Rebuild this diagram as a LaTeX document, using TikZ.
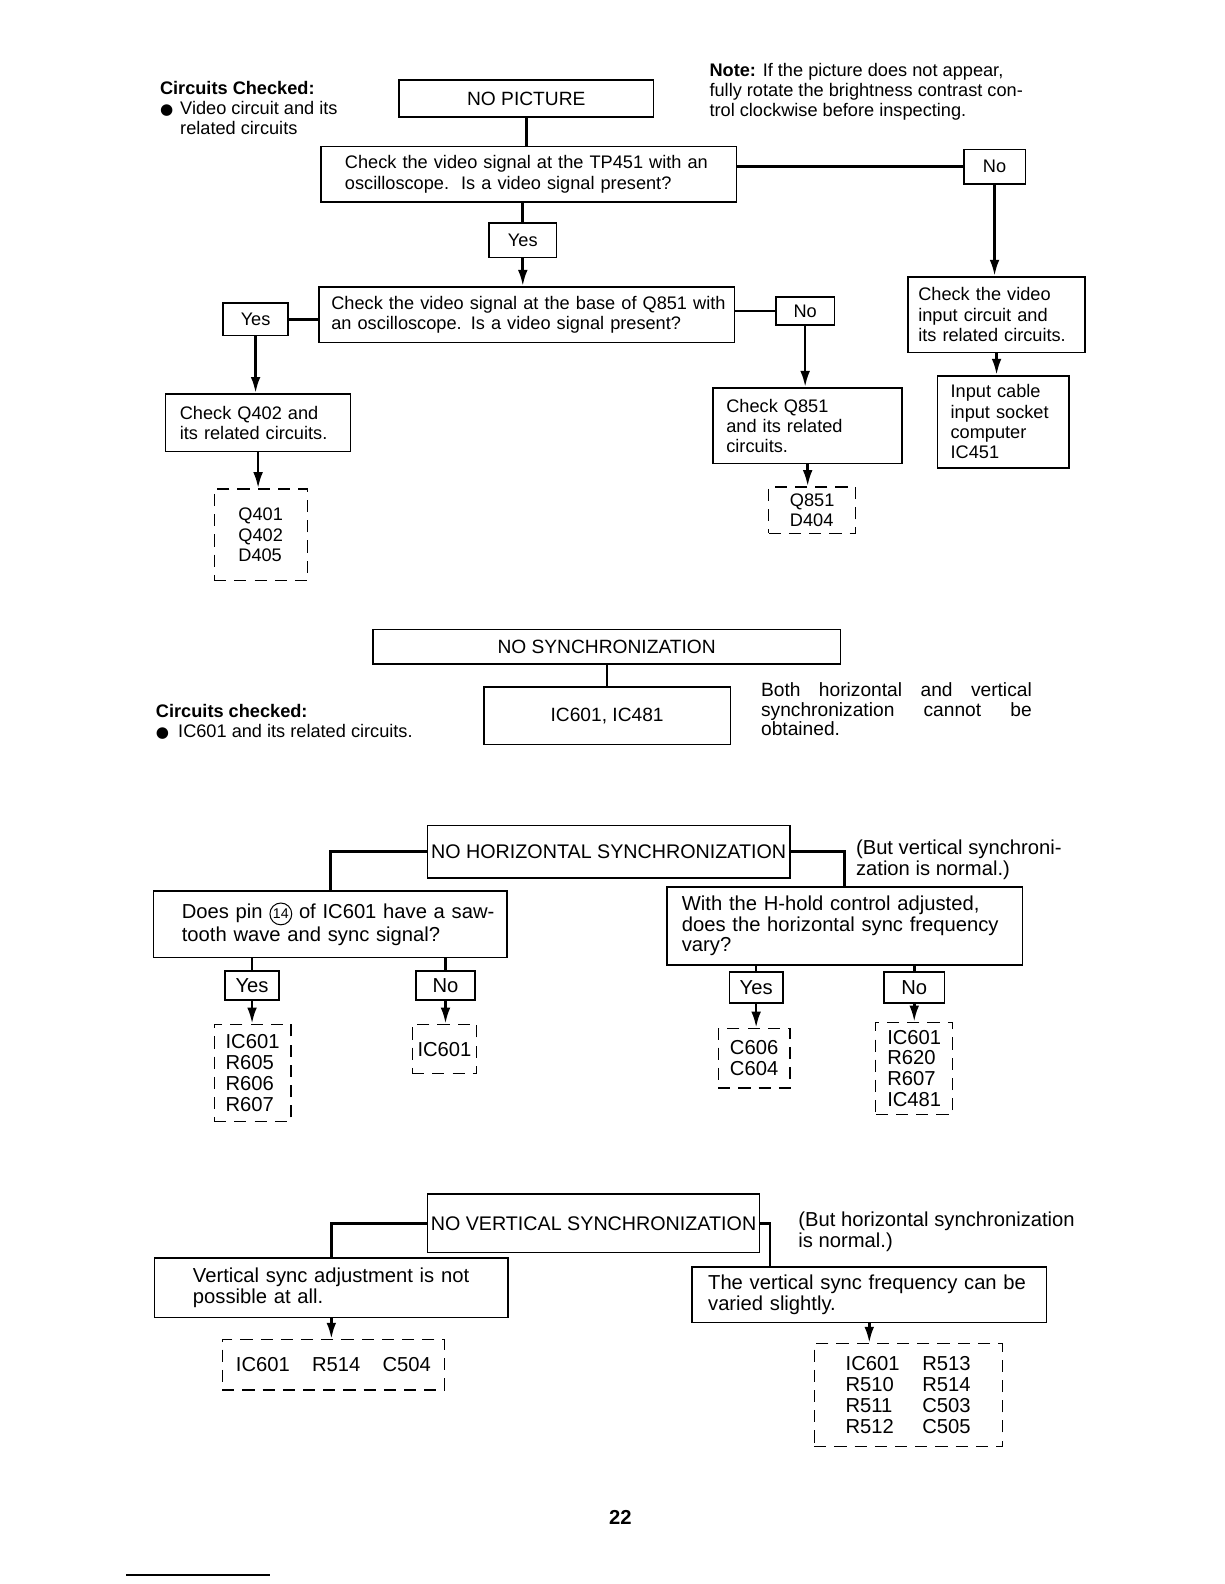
\documentclass[tikz,border=0pt]{standalone}
\usepackage{fontspec}
\setmainfont{Liberation Sans}
\newfontfamily\symfont{DejaVu Sans}
\usetikzlibrary{arrows.meta,positioning}

\newcommand{\smalltxt}{\fontsize{9}{10}\selectfont}
\newcommand{\largetxt}{\fontsize{10}{10.3}\selectfont}
\newcommand{\ttltxt}{\fontsize{9.5}{11}\selectfont}
\newcommand{\bigttltxt}{\fontsize{9.75}{11}\selectfont}
\newcommand{\blt}{{\symfont\fontsize{7.5}{7.5}\selectfont ●}}
\newcommand{\pinno}[1]{\tikz[baseline=(pn.base)]\node[circle, draw, line width=0.5pt, inner sep=0.6pt,
	minimum width=0pt, minimum height=0pt, text width=, align=center, font=\fontsize{7}{7}\selectfont](pn){#1};}

\begin{document}
\begin{tikzpicture}[x=0.5pt, y=-0.5pt, >={Latex[length=8pt,width=4.8pt]},
	box/.style={draw, line width=0.8pt, inner sep=0pt, align=left, font=\smalltxt},
	ttl/.style={box, align=center, font=\ttltxt},
	ans/.style={box, align=center},
	parts/.style={draw, line width=0.6pt, dash pattern=on 6pt off 4pt, inner sep=0pt, align=left, font=\smalltxt},
	low/.style={font=\largetxt},
	note/.style={inner sep=0pt, align=left, anchor=north west, font=\smalltxt},
	link/.style={line width=1.3pt},
	flow/.style={link, ->}]
	\useasboundingbox (0,0) rectangle (1212,1568);

	% Nodes {no picture}
	\node [note] (chk1) at (158,80) {\textbf{Circuits Checked:}\\\makebox[10pt][l]{\blt}Video circuit and its\\\hspace*{10pt}related circuits};
	\node [note] (memo) at (702,62) {\textbf{Note:} If the picture does not appear,\\fully rotate the brightness contrast con-\\trol clockwise before inspecting.};
	\node [ttl, minimum width=126pt, minimum height=18.5pt] (nopic) at (521,97.5) {NO PICTURE};
	\node [box, minimum width=205.5pt, minimum height=27.5pt, text width=182pt] (chkTP) at (523.5,172.5)
		{Check the video signal at the TP451 with an\\oscilloscope.\ \ Is a video signal present?};
	\node [ans, minimum width=30.5pt, minimum height=17pt] (no1) at (984.5,165) {No};
	\node [box, minimum width=87.5pt, minimum height=37.5pt, text width=77.5pt] (chkIn) at (986.5,311.5)
		{Check the video\\input circuit and\\its related circuits.};
	\node [box, minimum width=65pt, minimum height=45.5pt, text width=52pt] (src) at (993,417.5)
		{Input cable\\input socket\\computer\\IC451};
	\node [ans, minimum width=33.5pt, minimum height=17pt] (yes1) at (517.5,238) {Yes};
	\node [box, minimum width=205.5pt, minimum height=27.5pt, text width=193.5pt] (chkQ) at (521.5,311.5)
		{\makebox[\linewidth][s]{Check the video signal at the base of Q851 with}\\an oscilloscope. Is a video signal present?};
	\node [ans, minimum width=32pt, minimum height=16pt] (yes2) at (253,316) {Yes};
	\node [box, minimum width=91.5pt, minimum height=28.5pt, text width=77.5pt] (chkQ402) at (255.5,418.5)
		{Check Q402 and\\its related circuits.};
	\node [parts, minimum width=46pt, minimum height=45.5pt] (d1) at (258,529.5) {Q401\\Q402\\D405};
	\node [ans, minimum width=29pt, minimum height=14pt] (no2) at (797,308) {No};
	\node [box, minimum width=93.5pt, minimum height=37.5pt, text width=80.5pt] (chkQ851) at (799.5,421.5)
		{Check Q851\\and its related\\circuits.};
	\node [parts, minimum width=43pt, minimum height=23pt] (d2) at (804,505) {Q851\\D404};

	% Paths {no picture}
	\draw [link] (nopic.south) -- (nopic.south |- chkTP.north);
	\draw [link] (no1.west -| chkTP.east) -- (no1.west);
	\draw [flow] (no1.south) -- (no1.south |- chkIn.north);
	\draw [flow] (chkIn.south) -- (chkIn.south |- src.north);
	\draw [link] (yes1.north |- chkTP.south) -- (yes1.north);
	\draw [flow] (yes1.south) -- (yes1.south |- chkQ.north);
	\draw [link] (yes2.east -| chkQ.west) -- (yes2.east);
	\draw [flow] (yes2.south) -- (yes2.south |- chkQ402.north);
	\draw [flow] (chkQ402.south) -- (chkQ402.south |- d1.north);
	\draw [link] (no2.west -| chkQ.east) -- (no2.west);
	\draw [flow] (no2.south) -- (no2.south |- chkQ851.north);
	\draw [flow] (chkQ851.south) -- (chkQ851.south |- d2.north);

	% Nodes {no synchronization}
	\node [ttl, minimum width=231.5pt, minimum height=17pt] (nosync) at (600.5,640) {NO SYNCHRONIZATION};
	\node [ttl, minimum width=122pt, minimum height=28.5pt] (ic) at (601,708.5) {IC601, IC481};
	\node [note, font=\fontsize{9.5}{9.8}\selectfont] (both) at (753,675)
		{\makebox[134pt][s]{Both horizontal and vertical}\\\makebox[134pt][s]{synchronization cannot be}\\obtained.};
	\node [note] (chk2) at (154,697) {\textbf{Circuits checked:}\\\makebox[11pt][l]{\blt}IC601 and its related circuits.};

	% Paths {no synchronization}
	\draw [line width=1pt] (nosync.south) -- (nosync.south |- ic.north);

	% Nodes {no horizontal synchronization}
	\node [ttl, font=\bigttltxt, minimum width=179.5pt, minimum height=26pt] (nohor) at (602.5,843) {NO HORIZONTAL SYNCHRONIZATION};
	\node [note, low] (but1) at (847,831) {(But vertical synchroni-\\zation is normal.)};
	\node [box, low, minimum width=175pt, minimum height=33pt, text width=147pt] (pin) at (327,915)
		{\makebox[\linewidth][s]{Does pin \pinno{14} of IC601 have a saw-}\\tooth wave and sync signal?};
	\node [box, low, minimum width=176pt, minimum height=38.5pt, text width=161pt] (hhold) at (836,916.5)
		{\makebox[\linewidth][s]{With the H-hold control adjusted,}\\\makebox[\linewidth][s]{does the horizontal sync frequency}\\vary?};
	\node [ans, low, minimum width=26.5pt, minimum height=14.5pt] (yes3) at (249.5,975.5) {Yes};
	\node [ans, low, minimum width=29pt, minimum height=14.5pt] (no3) at (441,975.5) {No};
	\node [ans, low, minimum width=26.5pt, minimum height=15.5pt] (yes4) at (748.5,977.5) {Yes};
	\node [ans, low, minimum width=30pt, minimum height=15.5pt] (no4) at (905,977.5) {No};
	\node [parts, low, minimum width=38pt, minimum height=48pt] (d3) at (250,1062) {IC601\\R605\\R606\\R607};
	\node [parts, low, minimum width=32pt, minimum height=24.5pt] (d4) at (440,1038.5) {IC601};
	\node [parts, low, minimum width=35.5pt, minimum height=29.5pt] (d5) at (746.5,1047.5) {C606\\C604};
	\node [parts, low, minimum width=38pt, minimum height=45.5pt] (d6) at (905,1057.5) {IC601\\R620\\R607\\IC481};

	% Paths {no horizontal synchronization}
	\draw [link] (nohor.west) -| (pin.north);
	\draw [link] (nohor.east) -| (hhold.north);
	\draw [link] (yes3.north |- pin.south) -- (yes3.north);
	\draw [flow] (yes3.south) -- (yes3.south |- d3.north);
	\draw [link] (no3.north |- pin.south) -- (no3.north);
	\draw [flow] (no3.south) -- (no3.south |- d4.north);
	\draw [link] (yes4.north |- hhold.south) -- (yes4.north);
	\draw [flow] (yes4.south) -- (yes4.south |- d5.north);
	\draw [link] (no4.north |- hhold.south) -- (no4.north);
	\draw [flow] (no4.south) -- (no4.south |- d6.north);

	% Nodes {no vertical synchronization}
	\node [ttl, font=\bigttltxt, minimum width=164.5pt, minimum height=29pt] (nover) at (587.5,1211) {NO VERTICAL SYNCHRONIZATION};
	\node [note, low] (but2) at (790,1199) {(But horizontal synchronization\\is normal.)};
	\node [box, low, minimum width=175pt, minimum height=29.5pt, text width=137pt] (vsa) at (328,1274.5)
		{Vertical sync adjustment is not\\possible at all.};
	\node [box, low, minimum width=175.5pt, minimum height=27.5pt, text width=159.5pt] (vsf) at (860.5,1281.5)
		{\makebox[\linewidth][s]{The vertical sync frequency can be}\\varied slightly.};
	\node [parts, low, minimum width=110pt, minimum height=25pt] (d7) at (330,1351)
		{IC601\hspace{11pt}R514\hspace{11pt}C504};
	\node [parts, low, minimum width=93pt, minimum height=51pt] (d8) at (899,1381)
		{\makebox[38pt][l]{IC601}R513\\\makebox[38pt][l]{R510}R514\\\makebox[38pt][l]{R511}C503\\\makebox[38pt][l]{R512}C505};

	% Paths {no vertical synchronization}
	\draw [link] (nover.west) -| (vsa.north);
	\draw [link] (nover.east) -| ([xshift=39pt]vsf.north west);
	\draw [flow] (vsa.south) -- (vsa.south |- d7.north);
	\draw [flow] (vsf.south) -- (vsf.south |- d8.north);

	% page number
	\node [font=\fontsize{10}{10}\selectfont\bfseries] (page) at (614,1502) {22};
	\draw [line width=0.6pt] (125,1559) -- (267,1559);
\end{tikzpicture}
\end{document}
